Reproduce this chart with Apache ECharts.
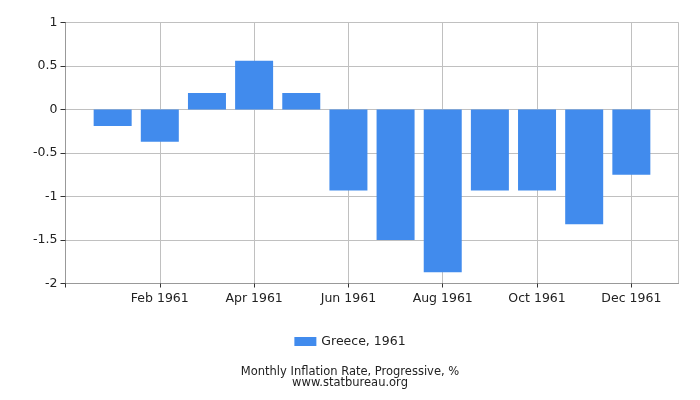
<!DOCTYPE html>
<html><head><meta charset="utf-8">
<script src="https://cdn.jsdelivr.net/npm/echarts@6/dist/echarts.min.js"></script>
<style>html,body{margin:0;padding:0;background:#fff}#c{width:700px;height:400px}</style>
</head><body><div id="c"></div>
<script>
const months = ['Jan 1961','Feb 1961','Mar 1961','Apr 1961','May 1961','Jun 1961','Jul 1961','Aug 1961','Sep 1961','Oct 1961','Nov 1961','Dec 1961'];
const monthPos = [1,2,3,4,5,6,7,8,9,10,11,12];
const values = [-0.19,-0.37,0.19,0.56,0.19,-0.93,-1.50,-1.87,-0.93,-0.93,-1.32,-0.75];
const seriesName = 'Greece, 1961';
const yTicks = [-2,-1.5,-1,-0.5,0,0.5,1];
const xTickPos = [0,2,4,6,8,10,12];

const chart = echarts.init(document.getElementById('c'), null, {renderer:'canvas'});
const font = 'DejaVu Sans';
chart.setOption({
  animation:false,
  textStyle:{fontFamily:font},
  grid:{left:65.5,right:21.5,top:22.5,bottom:116.5,show:true,borderColor:'#c0c0c0',borderWidth:1,backgroundColor:'transparent'},
  title:{text:'Monthly Inflation Rate, Progressive, %\nwww.statbureau.org',left:'center',top:362,
    textStyle:{fontSize:11.5,fontWeight:'normal',color:'#222',fontFamily:font,lineHeight:10.5}},
  legend:{data:[seriesName],top:330,left:'center',itemWidth:22,itemHeight:9,itemGap:5,
    icon:'rect',textStyle:{fontSize:12.5,color:'#222',fontFamily:font}},
  xAxis:{type:'value',min:0,max:13,interval:2,
    axisLine:{show:true,onZero:false,lineStyle:{color:'#999'}},
    axisTick:{show:true,length:4,customValues:xTickPos,lineStyle:{color:'#333'}},
    splitLine:{show:true,lineStyle:{color:'#c0c0c0'}},
    axisLabel:{fontSize:12.5,color:'#222',margin:9,fontFamily:font,customValues:xTickPos,
      formatter:v=>{const i=monthPos.indexOf(v);return i>=0?months[i]:'';}}},
  yAxis:{type:'value',min:-2,max:1,interval:0.5,
    axisLine:{show:true,lineStyle:{color:'#999'}},
    axisTick:{show:true,length:5,lineStyle:{color:'#333'}},
    splitLine:{show:true,lineStyle:{color:'#c0c0c0'}},
    axisLabel:{fontSize:12.5,color:'#222',margin:8,fontFamily:font,
      formatter:v=>yTicks.includes(v)?String(v):''}},
  series:[{name:seriesName,type:'bar',barWidth:38,
    itemStyle:{color:'#418bed'},
    data:monthPos.map((p,i)=>[p,values[i]])}]
});
</script></body></html>
